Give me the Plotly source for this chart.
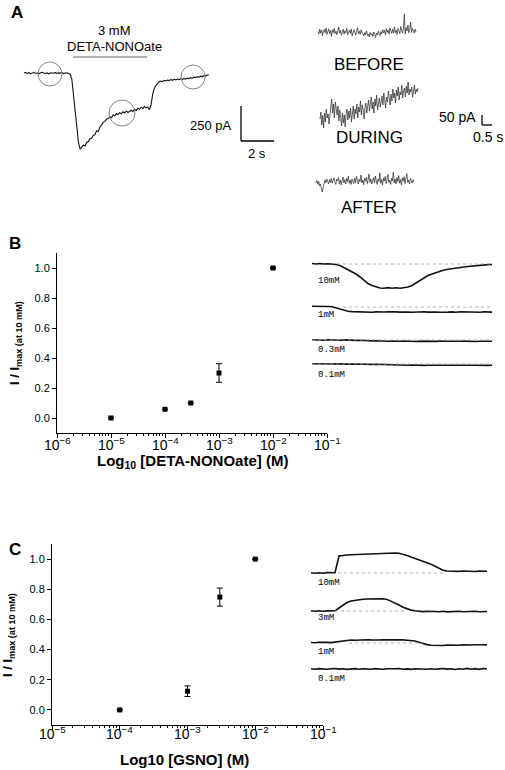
import numpy as np
import plotly.graph_objects as go

W, H = 505, 770

# ---------------- DATA ----------------
# Panel A: whole-cell current trace (pA), sampled every 0.1 s
trace_A_dt = 0.1
trace_A_pA = [0, 4, -3, 2, -5, 1, 3, -2, 0, -4, 2, 5, -1, -3, 1, -6, 2, 0, -2, 4, -3, 1, -1, 3, -4, 0, 2, -3,
              -8, -45, -150, -270, -400, -495, -543, -528, -516, -522, -496, -490, -468, -466, -446, -440,
              -412, -418, -386, -372, -352, -346, -330, -326, -312, -320, -300, -306, -290, -297, -283, -291,
              -277, -286, -271, -282, -275, -266, -276, -259, -267, -251, -259, -244, -253, -239, -249, -242,
              -262, -228, -150, -108, -88, -74, -62, -57, -61, -52, -57, -50, -54, -47, -52, -45, -50, -43,
              -47, -41, -46, -39, -44, -37, -41, -33, -37, -30, -33, -26, -30, -23, -27, -19, -22, -15, -13]

# Panel A insets (pA, relative), 5 s segments
before_pA = [3, -10, 14, -6, 9, -18, 5, 12, -4, 20, -12, 2, 16, -9, 7, -22, 11, -3, 18, -8, 4, -14, 10, 25, -6,
             8, -16, 3, 14, -11, 6, -4, 19, -13, 2, 10, -7, 15, -20, 5, 12, -2, -15, 8, 22, -9, 4, -12, 11, -5,
             -8, -20, -3, -14, 6, -18, -10, -25, -2, -16, -8, -22, 0, -12, -28, -6, -15, 4, -10, -18,
             2, -9, 12, -4, 8, -14, 16, -2, 10, -11, 20, 3, -7, 14, -5, 25, -3, 9, -12, 18, 6, -8, 28, 2, -6,
             15, 90, -10, 22, 5, 35, -4, 12, 50, -2, 18, 6, -5, 14, 0]
during_pA = [-10, 25, -40, 8, -55, 20, -25, 40, -5, 15, -35, 30,
             50, 90, 20, 65, -5, 75, 40, 10, 55, -20,
             35, -10, -45, 20, -30, 10, -50, 15, 40, -15, 30, -5, 45, -25,
             20, 55, -10, 40, 15, 65, -5, 50, 25, 80, 10, 60, 35, -10, 45, 70, 20, 55,
             85, 30, 65, 100, 40, 75, 20, 90, 55, 110, 35, 70, 95, 50, 80, 105,
             60, 120, 85, 45, 100, 75, 130, 90, 60, 115, 80, 140, 95, 120, 70, 135, 105, 150, 85, 125,
             110, 160, 95, 130, 145, 100, 155, 120, 175, 110, 140, 125, 150, 100, 135, 160, 115, 140, 125, 145]
after_pA = [-5, 8, -12, 4, -20, -10, -35, -50, -25, -8, 10, -4, 15, 2, -10, 12, -3, 18, -6, 8,
            20, -2, -12, 14, 5, 22, -8, 10, -15, 6, 25, -4, 12, -10, 18, 2, 30, -6, 9, -12,
            15, 4, -8, 20, -3, 28, 6, -10, 14, 2, 35, -5, 10, -14, 18, 4, 24, -8, 12, 40,
            -2, 15, -10, 8, 22, -4, 30, 6, -12, 16, 2, 45, -6, 12, -15, 20, 5, 28, -8, 14,
            38, -3, 10, -12, 18, 6, 50, -4, 15, -10, 22, 2, 32, -6, 12, -14, 20, 4, 26, -8,
            16, 42, -2, 10, -10, 18, 6, -5, 12, 0]
inset_labels_A = ["BEFORE", "DURING", "AFTER"]

# Panel B: concentration-response, DETA-NONOate
B_conc = [1e-5, 1e-4, 3e-4, 1e-3, 1e-2]
B_resp = [0.0, 0.058, 0.10, 0.30, 1.0]
B_err = [0.0, 0.0, 0.0, 0.062, 0.0]
B_xticks = [1e-6, 1e-5, 1e-4, 1e-3, 1e-2, 1e-1]
B_xticklabels = ["10<sup>−6</sup>", "10<sup>−5</sup>", "10<sup>−4</sup>", "10<sup>−3</sup>", "10<sup>−2</sup>",
                 "10<sup>−1</sup>"]

# Panel B inset traces (relative current), sampled every 4 s
B_t = list(range(0, 184, 4))
B_10mM = [0.5, 0, 0.5, 0, 0.3, 0, -0.5, -1.5, -3.5, -5.5, -7.5, -10, -13, -16.5, -19.5, -21.5, -23, -24, -24.2,
          -23.6, -24.3, -23.7, -24.2, -23.8, -23, -21.5, -19, -16, -13.5, -11.5, -10, -8.5, -7, -6, -5.2, -4.5,
          -4, -3.4, -3, -2.5, -2, -1.6, -1.2, -0.9, -0.6, -0.5]
B_1mM = [0.7, 0.8, 0.6, 0.8, 0.5, 0.2, -0.8, -2.2, -3.5, -4.3, -4.6, -4.8, -4.5, -5, -4.7, -5.2, -4.9, -5.3, -5,
         -4.8, -5.2, -4.9, -5.1, -4.7, -5, -5.3, -4.9, -5.2, -4.8, -5.1, -4.7, -5, -5.2, -4.8, -5.1, -4.9, -5.3,
         -4.8, -5, -4.7, -5.1, -4.9, -5.2, -4.8, -5, -5.1]
B_03mM = [0.3, 0, 0.4, -0.2, 0.3, 0, 0.2, -0.3, 0.1, -0.2, 0, -0.4, -0.2, -0.6, -0.5, -0.9, -0.8, -1.1, -1.0,
          -1.3, -1.1, -1.4, -1.2, -1.0, -1.4, -1.2, -1.5, -1.1, -1.3, -1.5, -1.2, -1.4, -1.1, -1.5, -1.3, -1.2,
          -1.5, -1.3, -1.1, -1.4, -1.2, -1.5, -1.3, -1.2, -1.4, -1.3]
B_01mM = [0.3, 0.1, 0.3, -0.1, 0.2, 0, 0.1, -0.2, 0.2, -0.1, 0, -0.2, 0.1, -0.3, -0.1, -0.4, -0.3, -0.5, -0.6,
          -0.8, -0.7, -1.0, -0.9, -1.1, -1.2, -1.0, -1.3, -1.1, -1.4, -1.2, -1.3, -1.1, -1.4, -1.2, -1.5, -1.1,
          -1.3, -1.2, -1.4, -1.0, -1.3, -1.2, -1.5, -1.1, -1.4, -1.3]
B_trace_labels = ["10mM", "1mM", "0.3mM", "0.1mM"]

# Panel C: concentration-response, GSNO
C_conc = [1e-4, 1e-3, 3e-3, 1e-2]
C_resp = [0.0, 0.124, 0.748, 1.0]
C_err = [0.0, 0.035, 0.06, 0.0]
C_xticks = [1e-5, 1e-4, 1e-3, 1e-2, 1e-1]
C_xticklabels = ["10<sup>−5</sup>", "10<sup>−4</sup>", "10<sup>−3</sup>", "10<sup>−2</sup>", "10<sup>−1</sup>"]

# Panel C inset traces (relative current), sampled every 4 s
C_t = list(range(0, 180, 4))
C_10mM = [0.3, -0.3, 0.2, -0.2, 0.4, 0, 0.2, 17, 17.8, 18, 18.3, 18.5, 18.4, 18.8, 19, 19, 19.3, 19.5, 19.6,
          19.8, 19.9, 20, 19.8, 18.8, 17.5, 16, 14.7, 13.2, 12, 10.5, 8.8, 6.8, 4.5, 2.8, 2, 1.8, 2.1, 1.6, 2,
          1.7, 1.9, 1.5, 1.9, 1.6, 1.8]
C_3mM = [0.2, -0.3, 0.3, -0.2, 0.1, -0.1, 0.2, 3, 6, 8.5, 10, 10.8, 11.4, 11.8, 12, 12.1, 12.3, 12.3, 12.2,
         11.6, 10, 8, 6, 3.8, 2, 0.9, 0.2, -0.3, -0.6, -0.4, -0.8, -0.5, -0.7, -0.3, -0.9, -0.5, -0.6, -0.2,
         -0.8, -0.4, -0.6, -0.3, -0.7, -0.4, -0.5]
C_1mM = [0.5, 0.2, 0.7, 0.3, 0.6, 0.4, 1, 1.6, 2.2, 2.7, 3, 2.8, 3.2, 3, 3.3, 3.1, 3.4, 3, 3.2, 3.3, 3, 3.2,
         2.9, 3.1, 2.8, 2.7, 2, 0.8, -0.5, -1.6, -2.3, -2.6, -2.2, -2.5, -2.1, -2.4, -2, -2.3, -1.9, -2.2, -2,
         -1.8, -2.1, -1.7, -1.9]
C_01mM = [0.3, -0.2, 0.4, 0, -0.3, 0.2, 0.5, -0.1, 0.3, -0.4, 0.1, 0.4, -0.2, 0.3, 0, -0.3, 0.4, 0.1, -0.2,
          0.3, -0.1, 0.2, 0.5, -0.2, 0.1, -0.4, 0.3, 0, 0.4, -0.2, 0.2, -0.3, 0.1, 0.5, -0.1, 0.3, -0.5, 0.2,
          -0.3, 0.6, -0.2, 0.4, -0.4, 0.5, 0.2]
C_trace_labels = ["10mM", "3mM", "1mM", "0.1mM"]

# ---------------- LAYOUT HELPERS ----------------
FONT = "Liberation Sans, Arial, sans-serif"
MONO = "Liberation Mono, Courier New, monospace"


def xd(a, b):
    return [a / W, b / W]


def yd(top, bottom):
    return [1 - bottom / H, 1 - top / H]


def px(x):
    return x / W


def py(y):
    return 1 - y / H


fig = go.Figure()
shapes = []
ann = []

# ---- Panel A main trace axes (s, pA) ----
A_pxs, A_pxpa, A_x0, A_y0 = 16.5, 0.14, 24, 73
tA = np.arange(len(trace_A_pA)) * trace_A_dt
fig.add_trace(go.Scatter(x=tA, y=trace_A_pA, mode="lines", line=dict(color="#111", width=1.1),
                         xaxis="x", yaxis="y", hoverinfo="skip"))


def Ax(p):
    return (p - A_x0) / A_pxs


def Ay(p):
    return (A_y0 - p) / A_pxpa


# circles
for cx, cy, r in [(50, 74, 12), (122, 113, 13), (193, 77, 12)]:
    shapes.append(dict(type="circle", xref="x", yref="y", x0=Ax(cx - r), x1=Ax(cx + r), y0=Ay(cy + r),
                       y1=Ay(cy - r), line=dict(color="#777", width=0.9)))
# drug bar
shapes.append(dict(type="line", xref="x", yref="y", x0=Ax(73), x1=Ax(147), y0=Ay(57), y1=Ay(57),
                   line=dict(color="#999", width=1.5)))
# scale bar 250 pA / 2 s
sbx, sby = Ax(241), Ay(141)
shapes.append(dict(type="line", xref="x", yref="y", x0=sbx, x1=sbx, y0=sby, y1=sby + 250,
                   line=dict(color="black", width=1.3)))
shapes.append(dict(type="line", xref="x", yref="y", x0=sbx, x1=sbx + 2, y0=sby, y1=sby,
                   line=dict(color="black", width=1.3)))
ann += [
    dict(x=px(114), y=py(30), text="3 mM", font=dict(size=13)),
    dict(x=px(114), y=py(46), text="DETA-NONOate", font=dict(size=13)),
    dict(x=px(234), y=py(126), text="250 pA", xanchor="right", font=dict(size=13)),
    dict(x=px(257), y=py(153), text="2 s", font=dict(size=13)),
]

# ---- Panel A insets ----
I_pxs, I_pxpa = 20.0, 0.2
offsets_A = [(32, 318), (117, 320), (182, 316)]
for arr, (base_py, x_start) in zip([before_pA, during_pA, after_pA], offsets_A):
    t = np.linspace(0, 4.9, len(arr)) + (x_start - 318) / I_pxs
    y = np.array(arr) + (230 - base_py) / I_pxpa
    fig.add_trace(go.Scatter(x=t, y=y, mode="lines", line=dict(color="#222", width=0.7),
                             xaxis="x2", yaxis="y2", hoverinfo="skip"))
for lab, ly in zip(inset_labels_A, [64, 138, 207]):
    ann.append(dict(x=px(369), y=py(ly), text=lab, font=dict(size=17)))
sx2, sy2 = (482 - 318) / I_pxs, (230 - 125) / I_pxpa
shapes.append(dict(type="line", xref="x2", yref="y2", x0=sx2, x1=sx2, y0=sy2, y1=sy2 + 50,
                   line=dict(color="black", width=1.3)))
shapes.append(dict(type="line", xref="x2", yref="y2", x0=sx2, x1=sx2 + 0.5, y0=sy2, y1=sy2,
                   line=dict(color="black", width=1.3)))
ann += [
    dict(x=px(478), y=py(117), text="50 pA", xanchor="right", font=dict(size=14)),
    dict(x=px(488), y=py(137), text="0.5 s", font=dict(size=14)),
]

# ---- Panel B ----
fig.add_trace(go.Scatter(x=B_conc, y=B_resp, mode="markers",
                         marker=dict(symbol="square", size=5, color="black"),
                         error_y=dict(type="data", array=B_err, visible=True, color="black", thickness=1, width=3),
                         xaxis="x3", yaxis="y3", hoverinfo="skip"))
for v, lab in zip(B_xticks, B_xticklabels):
    ann.append(dict(x=np.log10(v), xref="x3", y=py(444), text=lab, font=dict(size=14)))
B_base = [264, 307, 340, 364]
B_dot_start = [25, 31, 0, 0]
for arr, bpy, ds in zip([B_10mM, B_1mM, B_03mM, B_01mM], B_base, B_dot_start):
    off = 385 - bpy
    shapes.append(dict(type="line", xref="x4", yref="y4", x0=ds, x1=181, y0=off, y1=off,
                       line=dict(color="#999", width=0.8, dash="dot")))
    fig.add_trace(go.Scatter(x=B_t, y=np.array(arr) + off, mode="lines", line=dict(color="#111", width=1.6),
                             xaxis="x4", yaxis="y4", hoverinfo="skip"))
for lab, ly in zip(B_trace_labels, [281, 315, 350, 375]):
    ann.append(dict(x=px(316), y=py(ly), text=lab, xanchor="left", font=dict(size=9, family=MONO)))

# ---- Panel C ----
fig.add_trace(go.Scatter(x=C_conc, y=C_resp, mode="markers",
                         marker=dict(symbol="square", size=5, color="black"),
                         error_y=dict(type="data", array=C_err, visible=True, color="black", thickness=1, width=3),
                         xaxis="x5", yaxis="y5", hoverinfo="skip"))
for v, lab in zip(C_xticks, C_xticklabels):
    ann.append(dict(x=np.log10(v), xref="x5", y=py(733), text=lab, font=dict(size=14)))
C_base = [573, 611, 643, 669]
C_dot = [(27, 135), (24, 95), (38, 112), None]
for arr, bpy, dd in zip([C_10mM, C_3mM, C_1mM, C_01mM], C_base, C_dot):
    off = 690 - bpy
    if dd:
        shapes.append(dict(type="line", xref="x6", yref="y6", x0=dd[0], x1=dd[1], y0=off, y1=off,
                           line=dict(color="#999", width=0.8, dash="dot")))
    fig.add_trace(go.Scatter(x=C_t, y=np.array(arr) + off, mode="lines", line=dict(color="#111", width=1.6),
                             xaxis="x6", yaxis="y6", hoverinfo="skip"))
for lab, ly in zip(C_trace_labels, [583, 618, 652, 679]):
    ann.append(dict(x=px(316), y=py(ly), text=lab, xanchor="left", font=dict(size=9, family=MONO)))

# titles / panel letters
ann += [
    dict(x=px(17), y=py(13), text="<b>A</b>", font=dict(size=17)),
    dict(x=px(15), y=py(243), text="<b>B</b>", font=dict(size=17)),
    dict(x=px(15), y=py(549), text="<b>C</b>", font=dict(size=17)),
    dict(x=px(15), y=py(343), text="<b>I / I<sub>max (at 10 mM)</sub></b>", textangle=-90, font=dict(size=13)),
    dict(x=px(8), y=py(635), text="<b>I / I<sub>max (at 10 mM)</sub></b>", textangle=-90, font=dict(size=13)),
    dict(x=px(192), y=py(461), text="<b>Log<sub>10</sub> [DETA-NONOate] (M)</b>", font=dict(size=15)),
    dict(x=px(184), y=py(759), text="<b>Log10 [GSNO] (M)</b>", font=dict(size=15)),
]
for a in ann:
    a.setdefault("xref", "paper")
    a.setdefault("yref", "paper")
    a.setdefault("showarrow", False)
    a.setdefault("xanchor", "center")
    a.setdefault("yanchor", "middle")
    a["font"].setdefault("family", FONT)
    a["font"].setdefault("color", "black")

hidden = dict(visible=False, showgrid=False, zeroline=False, fixedrange=True, automargin=False)


def logx(dom, rng, anchor):
    return dict(type="log", domain=dom, range=rng, anchor=anchor, showline=True, linecolor="black",
                linewidth=1, ticks="outside", ticklen=4, tickcolor="black", dtick=1, automargin=False,
                showticklabels=False, showgrid=False, zeroline=False,
                minor=dict(ticks="outside", ticklen=2, tickcolor="black", showgrid=False))


def liny(dom, anchor):
    return dict(domain=dom, range=[-0.1, 1.1], anchor=anchor, showline=True, linecolor="black", linewidth=1,
                ticks="outside", ticklen=4, tickcolor="black", tick0=0, dtick=0.2, tickformat=".1f",
                automargin=False, showgrid=False, zeroline=False,
                tickfont=dict(family=FONT, size=11, color="black"))


fig.update_layout(
    width=W, height=H, margin=dict(l=0, r=0, t=0, b=0, autoexpand=False),
    paper_bgcolor="white", plot_bgcolor="rgba(0,0,0,0)", showlegend=False,
    font=dict(family=FONT, color="black"),
    xaxis=dict(domain=xd(20, 280), range=[Ax(20), Ax(280)], anchor="y", **hidden),
    yaxis=dict(domain=yd(15, 165), range=[Ay(165), Ay(15)], anchor="x", **hidden),
    xaxis2=dict(domain=xd(300, 505), range=[(300 - 318) / I_pxs, (505 - 318) / I_pxs], anchor="y2", **hidden),
    yaxis2=dict(domain=yd(0, 230), range=[0, 230 / I_pxpa], anchor="x2", **hidden),
    xaxis3=logx(xd(57, 327), [-6, -1], "y3"),
    yaxis3=liny(yd(253, 433), "x3"),
    xaxis4=dict(domain=xd(305, 500), range=[305 - 312, 500 - 312], anchor="y4", **hidden),
    yaxis4=dict(domain=yd(255, 385), range=[0, 130], anchor="x4", **hidden),
    xaxis5=logx(xd(52, 323), [-5, -1], "y5"),
    yaxis5=liny(yd(544, 725), "x5"),
    xaxis6=dict(domain=xd(305, 500), range=[305 - 311, 500 - 311], anchor="y6", **hidden),
    yaxis6=dict(domain=yd(540, 690), range=[0, 150], anchor="x6", **hidden),
    shapes=shapes, annotations=ann,
)

fig.write_html("out.html", config={"displayModeBar": False},
               post_script="document.body.style.margin='0';document.body.style.overflow='hidden';")
